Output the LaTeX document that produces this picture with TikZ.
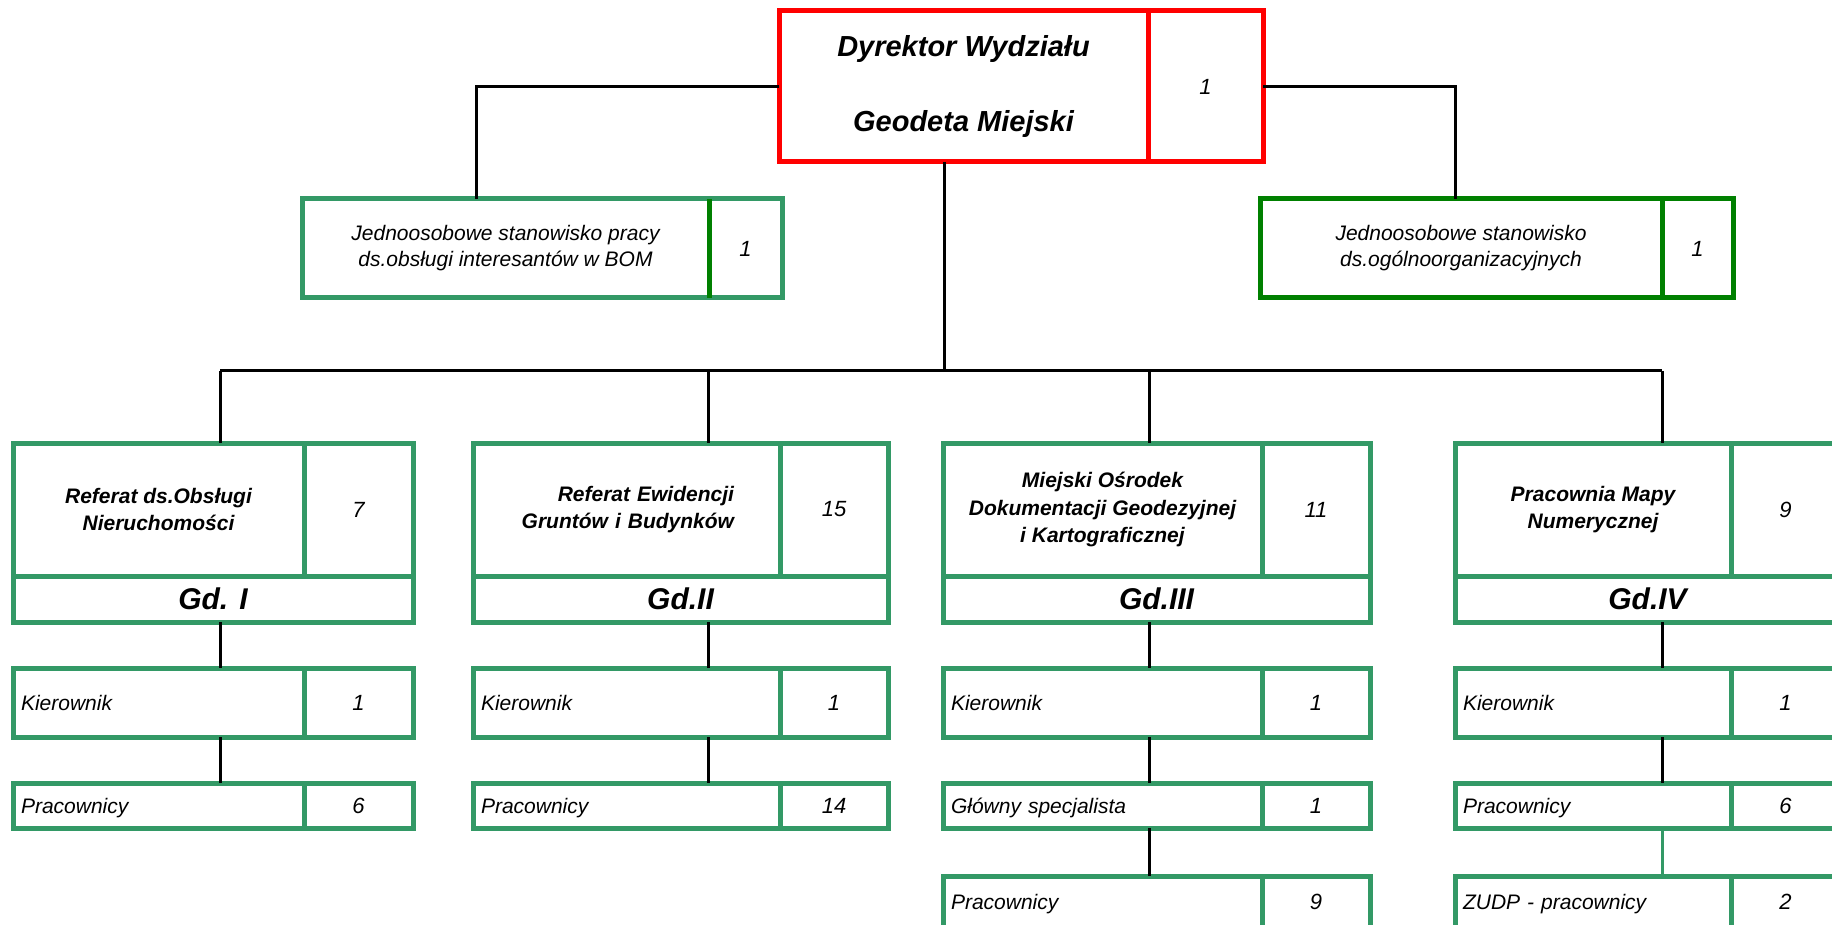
\documentclass[tikz,border=0pt]{standalone}
\usepackage{fontspec}
\setmainfont{Liberation Sans}
\usetikzlibrary{positioning}
\definecolor{seagreen}{RGB}{51,153,102}
\definecolor{darkgreen}{RGB}{0,128,0}
\tikzset{
	box/.style = {draw=seagreen, line width=5pt, rectangle, inner sep=0pt, outer sep=0pt, anchor=north west},
	head/.style = {box, font=\fontsize{21}{27.5}\selectfont\bfseries\itshape, align=center},
	info/.style = {box, font=\fontsize{21}{26}\selectfont\itshape, align=center},
	num/.style = {box, font=\fontsize{22}{26}\selectfont\itshape},
	code/.style = {box, font=\fontsize{30}{34}\selectfont\bfseries\itshape},
	row/.style = {box, font=\fontsize{21}{25}\selectfont\itshape, align=left, inner xsep=8pt, text depth=0pt},
	line/.style = {draw=black, line width=3pt}
}

\begin{document}
\begin{tikzpicture}[x=1pt,y=-1pt]
	\useasboundingbox (0,0) rectangle (1832,925);
	\clip (0,0) rectangle (1832,925);

	\node [box, draw=red, font=\fontsize{29}{75}\selectfont\bfseries\itshape, align=center,
		minimum width=369pt, minimum height=151pt] (dyr) at (779,11) {Dyrektor Wydziału\\Geodeta Miejski};
	\node [num, draw=red, right=0pt of dyr, minimum width=115pt, minimum height=151pt] (dyrn) {1};

	\node [info, minimum width=407pt, minimum height=99pt] (bom) at (302,199)
		{Jednoosobowe stanowisko pracy\\ds.obsługi interesantów w BOM};
	\node [num, right=0pt of bom, minimum width=73pt, minimum height=99pt] (bomn) {1};
	\draw [darkgreen, line width=5pt] (bom.north east) -- (bom.south east);

	\node [info, draw=darkgreen, minimum width=402pt, minimum height=99pt] (org) at (1260,199)
		{Jednoosobowe stanowisko\\ds.ogólnoorganizacyjnych};
	\node [num, draw=darkgreen, right=0pt of org, minimum width=71pt, minimum height=99pt] (orgn) {1};

	\node [head, minimum width=291pt, minimum height=133pt] (ref1) at (13,443) {Referat ds.Obsługi\\Nieruchomości};
	\node [num, right=0pt of ref1, minimum width=109pt, minimum height=133pt] (ref1n) {7};
	\node [code, minimum width=400pt, minimum height=46pt] (gd1) at (ref1.south west) {Gd. I};
	\node [row, text width=275pt, minimum height=69pt] (kier1) at (13,668) {Kierownik};
	\node [num, right=0pt of kier1, minimum width=109pt, minimum height=69pt] (kier1n) {1};
	\node [row, text width=275pt, minimum height=45pt] (prac1) at (13,783) {Pracownicy};
	\node [num, right=0pt of prac1, minimum width=109pt, minimum height=45pt] (prac1n) {6};

	\node [head, align=right, text width=215pt, minimum width=307pt, minimum height=133pt] (ref2) at (473,443)
		{Referat Ewidencji\\Gruntów i Budynków};
	\node [num, right=0pt of ref2, minimum width=108pt, minimum height=133pt] (ref2n) {15};
	\node [code, minimum width=415pt, minimum height=46pt] (gd2) at (ref2.south west) {Gd.II};
	\node [row, text width=291pt, minimum height=69pt] (kier2) at (473,668) {Kierownik};
	\node [num, right=0pt of kier2, minimum width=108pt, minimum height=69pt] (kier2n) {1};
	\node [row, text width=291pt, minimum height=45pt] (prac2) at (473,783) {Pracownicy};
	\node [num, right=0pt of prac2, minimum width=108pt, minimum height=45pt] (prac2n) {14};

	\node [head, minimum width=319pt, minimum height=133pt] (ref3) at (943,443)
		{Miejski Ośrodek\\Dokumentacji Geodezyjnej\\i Kartograficznej};
	\node [num, right=0pt of ref3, minimum width=108pt, minimum height=133pt] (ref3n) {11};
	\node [code, minimum width=427pt, minimum height=46pt] (gd3) at (ref3.south west) {Gd.III};
	\node [row, text width=303pt, minimum height=69pt] (kier3) at (943,668) {Kierownik};
	\node [num, right=0pt of kier3, minimum width=108pt, minimum height=69pt] (kier3n) {1};
	\node [row, text width=303pt, minimum height=45pt] (glow3) at (943,783) {Główny specjalista};
	\node [num, right=0pt of glow3, minimum width=108pt, minimum height=45pt] (glow3n) {1};
	\node [row, text width=303pt, minimum height=52pt] (prac3) at (943,876) {Pracownicy};
	\node [num, right=0pt of prac3, minimum width=108pt, minimum height=52pt] (prac3n) {9};

	\node [head, minimum width=276pt, minimum height=133pt] (ref4) at (1455,443) {Pracownia Mapy\\Numerycznej};
	\node [num, right=0pt of ref4, minimum width=109pt, minimum height=133pt] (ref4n) {9};
	\node [code, minimum width=385pt, minimum height=46pt] (gd4) at (ref4.south west) {Gd.IV};
	\node [row, text width=260pt, minimum height=69pt] (kier4) at (1455,668) {Kierownik};
	\node [num, right=0pt of kier4, minimum width=109pt, minimum height=69pt] (kier4n) {1};
	\node [row, text width=260pt, minimum height=45pt] (prac4) at (1455,783) {Pracownicy};
	\node [num, right=0pt of prac4, minimum width=109pt, minimum height=45pt] (prac4n) {6};
	\node [row, text width=260pt, minimum height=52pt] (zudp4) at (1455,876) {ZUDP - pracownicy};
	\node [num, right=0pt of zudp4, minimum width=109pt, minimum height=52pt] (zudp4n) {2};

	\coordinate (kL) at (476,0);
	\coordinate (kR) at (1455,0);
	\coordinate (bus) at (944,371);
	\coordinate (d1) at (220,371);
	\coordinate (d2) at (708,371);
	\coordinate (d3) at (1149,371);
	\coordinate (d4) at (1662,371);

	\draw [line] (dyr.west) -| (bom.north -| kL);
	\draw [line] (dyrn.east) -| (org.north -| kR);
	\draw [line] (dyr.south -| bus) -- (bus);
	\draw [line] (d1) -- (d4);
	\foreach \i in {1,...,4} {
		\draw [line] (d\i) -- (d\i |- ref\i.north);
		\draw [line] (gd\i.south -| d\i) -- (d\i |- kier\i.north);
	}
	\draw [line] (kier1.south -| d1) -- (d1 |- prac1.north);
	\draw [line] (kier2.south -| d2) -- (d2 |- prac2.north);
	\draw [line] (kier3.south -| d3) -- (d3 |- glow3.north);
	\draw [line] (glow3.south -| d3) -- (d3 |- prac3.north);
	\draw [line] (kier4.south -| d4) -- (d4 |- prac4.north);
	\draw [line, draw=seagreen] (prac4.south -| d4) -- (d4 |- zudp4.north);
\end{tikzpicture}
\end{document}
